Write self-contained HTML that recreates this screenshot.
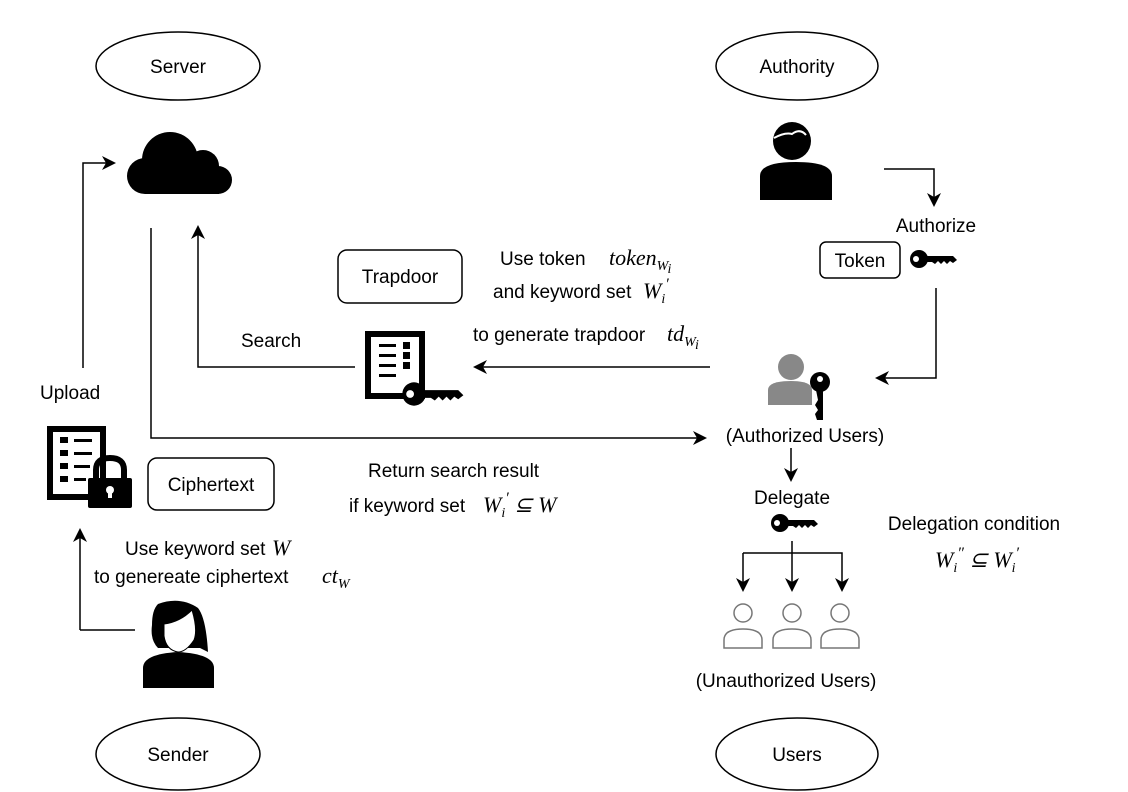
<!DOCTYPE html>
<html><head><meta charset="utf-8"><style>
html,body{margin:0;padding:0;background:#fff;}
svg{display:block;}
text{font-family:"Liberation Sans",sans-serif;font-size:19px;fill:#000;}
.m{font-family:"Liberation Serif",serif;font-style:italic;font-size:22px;}
.s{font-family:"Liberation Serif",serif;font-style:italic;font-size:14px;}
</style></head><body>
<svg width="1128" height="792" viewBox="0 0 1128 792" xmlns="http://www.w3.org/2000/svg">
<defs>
<marker id="a" markerWidth="14" markerHeight="14" refX="12" refY="7" orient="auto" markerUnits="userSpaceOnUse">
<path d="M0,0 L14,7 L0,14 L4,7 Z" fill="#000"/></marker>
<g id="key"><circle cx="0" cy="0" r="9" fill="#000"/><circle cx="-3" cy="0" r="3" fill="#fff"/><path d="M6,-3 H34 L38,1 L34,4 L31,2 L28,5 L25,2 L22,5 L19,2 L16,5 L13,3 H6 Z" fill="#000"/></g>
<g id="ou" fill="none" stroke="#777" stroke-width="1.5"><circle cx="20" cy="10" r="9"/><path d="M1,45 V37 Q1,26 20,26 Q39,26 39,37 V45 Z"/></g>
</defs>
<g fill="none" stroke="#000" stroke-width="1.5">
<ellipse cx="178" cy="66" rx="82" ry="34"/>
<ellipse cx="797" cy="66" rx="81" ry="34"/>
<ellipse cx="178" cy="754" rx="82" ry="36"/>
<ellipse cx="797" cy="754" rx="81" ry="36"/>
<rect x="338" y="250" width="124" height="53" rx="9"/>
<rect x="148" y="458" width="126" height="52" rx="9"/>
<rect x="820" y="242" width="80" height="36" rx="6"/>
<polyline points="83,368 83,163 114,163" marker-end="url(#a)"/>
<polyline points="151,228 151,438 705,438" marker-end="url(#a)"/>
<polyline points="355,367 198,367 198,227" marker-end="url(#a)"/>
<line x1="710" y1="367" x2="475" y2="367" marker-end="url(#a)"/>
<polyline points="80,630 135,630"/>
<line x1="80" y1="630" x2="80" y2="530" marker-end="url(#a)"/>
<polyline points="884,169 934,169 934,205" marker-end="url(#a)"/>
<polyline points="936,288 936,378 877,378" marker-end="url(#a)"/>
<line x1="791" y1="448" x2="791" y2="480" marker-end="url(#a)"/>
<line x1="792" y1="541" x2="792" y2="590" marker-end="url(#a)"/>
<polyline points="743,553 743,590" marker-end="url(#a)"/>
<polyline points="743,553 842,553 842,590" marker-end="url(#a)"/>
</g>
<!-- cloud -->
<g fill="#000"><circle cx="170" cy="160" r="28"/><circle cx="203" cy="166" r="16"/><circle cx="145" cy="176" r="18"/><circle cx="218" cy="180" r="14"/><rect x="145" y="170" width="74" height="24"/></g>
<!-- trapdoor doc -->
<rect x="368" y="334" width="54" height="62" fill="none" stroke="#000" stroke-width="6"/>
<g fill="#000"><rect x="379" y="344" width="17" height="3"/><rect x="379" y="354" width="17" height="3"/><rect x="379" y="364" width="17" height="3"/><rect x="379" y="374" width="17" height="3"/>
<rect x="403" y="342" width="7" height="7"/><rect x="403" y="352" width="7" height="7"/><rect x="403" y="362" width="7" height="7"/></g>
<use href="#key" transform="translate(414,394) scale(1.3)"/>
<!-- ciphertext doc -->
<rect x="50" y="429" width="53" height="68" fill="none" stroke="#000" stroke-width="6"/>
<g fill="#000"><rect x="60" y="437" width="8" height="6"/><rect x="60" y="450" width="8" height="6"/><rect x="60" y="463" width="8" height="6"/><rect x="60" y="476" width="8" height="6"/>
<rect x="74" y="439" width="18" height="3"/><rect x="74" y="452" width="18" height="3"/><rect x="74" y="465" width="16" height="3"/><rect x="74" y="478" width="12" height="3"/>
<rect x="88" y="478" width="44" height="30" rx="2"/></g>
<path d="M96,478 V470 Q96,458 110,458 Q124,458 124,470 V478" fill="none" stroke="#000" stroke-width="6"/>
<circle cx="110" cy="490" r="4" fill="#fff"/><rect x="108" y="490" width="4" height="8" fill="#fff"/>
<!-- authority person -->
<circle cx="792" cy="141" r="19" fill="#000"/><path d="M774,138 Q785,132 792,134 Q800,128 806,135" fill="none" stroke="#fff" stroke-width="2"/>
<path d="M760,200 V176 Q760,162 796,162 Q832,162 832,176 V200 Z" fill="#000"/>
<!-- token key -->
<use href="#key" transform="translate(919,259)"/>
<!-- authorized user -->
<circle cx="791" cy="367" r="13" fill="#888"/><path d="M768,405 V390 Q768,381 791,381 Q812,381 812,390 V405 Z" fill="#888"/>
<circle cx="820" cy="382" r="10" fill="#000"/><circle cx="820" cy="379" r="3" fill="#fff"/><path d="M816,390 H823 V420 H817 L815,414 L818,410 L815,405 L818,400 Z" fill="#000"/>
<!-- delegate key -->
<use href="#key" transform="translate(780,523)"/>
<!-- woman -->
<g fill="#000"><path d="M158,604 Q180,596 198,608 Q206,618 208,652 L200,648 L158,648 Q150,640 152,625 Q152,610 158,604 Z"/>
<path d="M143,688 V668 Q143,654 178,652 Q214,654 214,668 V688 Z"/></g>
<path d="M164,624 Q180,622 192,610 Q198,630 194,640 Q186,652 178,652 Q166,650 164,636 Z" fill="#fff" stroke="#000" stroke-width="1"/>
<!-- unauth users -->
<use href="#ou" transform="translate(723,603)"/><use href="#ou" transform="translate(772,603)"/><use href="#ou" transform="translate(820,603)"/>
<!-- texts -->
<text x="178" y="73" text-anchor="middle">Server</text>
<text x="797" y="73" text-anchor="middle">Authority</text>
<text x="178" y="761" text-anchor="middle">Sender</text>
<text x="797" y="761" text-anchor="middle">Users</text>
<text x="400" y="283" text-anchor="middle">Trapdoor</text>
<text x="211" y="491" text-anchor="middle">Ciphertext</text>
<text x="860" y="267" text-anchor="middle">Token</text>
<text x="241" y="347">Search</text>
<text x="40" y="399">Upload</text>
<text x="936" y="232" text-anchor="middle">Authorize</text>
<text x="805" y="442" text-anchor="middle">(Authorized Users)</text>
<text x="792" y="504" text-anchor="middle">Delegate</text>
<text x="786" y="687" text-anchor="middle">(Unauthorized Users)</text>
<text x="974" y="530" text-anchor="middle">Delegation condition</text>
<text x="935" y="567" class="m">W<tspan class="s" dy="5">i</tspan><tspan dy="-14" font-size="16">″</tspan><tspan dy="9"> ⊆ W</tspan><tspan class="s" dy="5">i</tspan><tspan dy="-14" font-size="16">′</tspan></text>
<text x="500" y="265">Use token</text>
<text x="609" y="265" class="m">token<tspan class="s" dy="5">W</tspan><tspan class="s" font-size="10" dy="3">i</tspan></text>
<text x="493" y="298">and keyword set</text>
<text x="643" y="298" class="m">W<tspan class="s" dy="5">i</tspan><tspan dy="-14" font-size="16">′</tspan></text>
<text x="473" y="341">to generate trapdoor</text>
<text x="667" y="341" class="m">td<tspan class="s" dy="5">W</tspan><tspan class="s" font-size="10" dy="3">i</tspan></text>
<text x="368" y="477">Return search result</text>
<text x="349" y="512">if keyword set</text>
<text x="483" y="512" class="m">W<tspan class="s" dy="5">i</tspan><tspan dy="-14" font-size="16">′</tspan><tspan dy="9"> ⊆ W</tspan></text>
<text x="125" y="555">Use keyword set</text>
<text x="272" y="555" class="m">W</text>
<text x="94" y="583">to genereate ciphertext</text>
<text x="322" y="583" class="m">ct<tspan class="s" dy="5">W</tspan></text>
</svg>
</body></html>
